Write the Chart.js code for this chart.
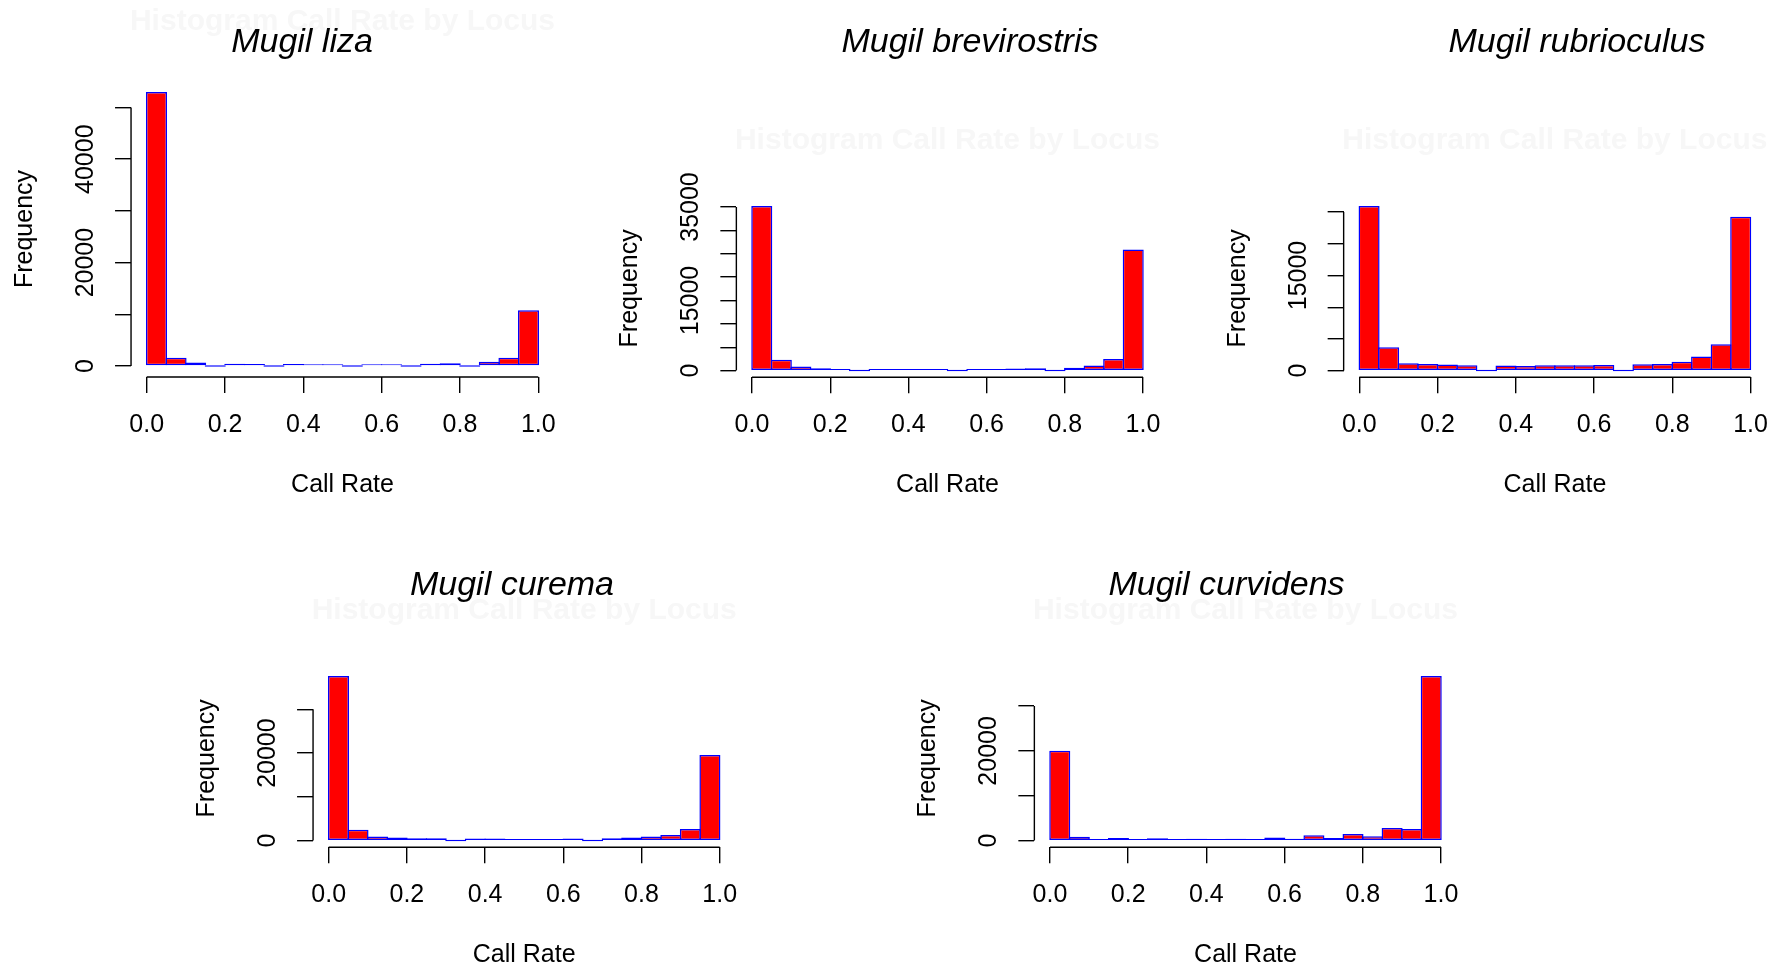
<!DOCTYPE html>
<html>
<head>
<meta charset="utf-8">
<script src="https://cdn.jsdelivr.net/npm/chart.js@4.4.0/dist/chart.umd.min.js"></script>
<style>
  html, body { margin: 0; padding: 0; background: #ffffff; }
  body { width: 1787px; height: 971px; position: relative; overflow: hidden; }
  canvas { position: absolute; }
</style>
</head>
<body>
<canvas id="c1"></canvas>
<canvas id="c2"></canvas>
<canvas id="c3"></canvas>
<canvas id="c4"></canvas>
<canvas id="c5"></canvas>
<script>
// ---------------- DATA ----------------
const breaks = [0.00, 0.05, 0.10, 0.15, 0.20, 0.25, 0.30, 0.35, 0.40, 0.45, 0.50,
                0.55, 0.60, 0.65, 0.70, 0.75, 0.80, 0.85, 0.90, 0.95, 1.00];
const xTickValues = [0.0, 0.2, 0.4, 0.6, 0.8, 1.0];

const speciesNames = ['Mugil liza', 'Mugil brevirostris', 'Mugil rubrioculus', 'Mugil curema', 'Mugil curvidens'];
const mainTitle = 'Histogram Call Rate by Locus';
const xAxisTitle = 'Call Rate';
const yAxisTitle = 'Frequency';

const lizaCounts         = [53000, 1600, 700, 0, 450, 400, 0, 400, 330, 330, 0, 330, 330, 0, 450, 560, 0, 850, 1600, 10800];
const brevirostrisCounts = [35200, 2300, 860, 500, 360, 0, 360, 360, 360, 360, 0, 360, 360, 430, 500, 0, 600, 1100, 2500, 25900];
const rubrioculusCounts  = [25950, 3680, 1160, 1050, 950, 840, 0, 790, 740, 840, 840, 840, 900, 0, 1000, 1050, 1400, 2230, 4150, 24250];
const curemaCounts       = [37600, 2460, 920, 690, 540, 540, 0, 460, 460, 380, 380, 380, 460, 0, 540, 690, 920, 1300, 2670, 19570];
const curvidensCounts    = [20040, 890, 300, 590, 300, 520, 300, 440, 220, 440, 300, 670, 440, 1190, 590, 1480, 960, 2800, 2600, 36680];

const lizaYTicks          = [0, 10000, 20000, 30000, 40000, 50000];
const lizaYLabels         = [0, 20000, 40000];
const brevirostrisYTicks  = [0, 5000, 10000, 15000, 20000, 25000, 30000, 35000];
const brevirostrisYLabels = [0, 15000, 35000];
const rubrioculusYTicks   = [0, 5000, 10000, 15000, 20000, 25000];
const rubrioculusYLabels  = [0, 15000];
const curemaYTicks        = [0, 10000, 20000, 30000];
const curemaYLabels       = [0, 20000];
const curvidensYTicks     = [0, 10000, 20000, 30000];
const curvidensYLabels    = [0, 20000];

// ---------------- LAYOUT / STYLE ----------------
const FAMILY = '"Liberation Sans", Arial, Helvetica, sans-serif';
const LABEL_SIZE = 25;
const TITLE_SIZE = 34;
const MAIN_SIZE = 30;
const Y_BOX_W = 121;      // space left of plot region
const X_BOX_H = 123;      // space below plot region
const TICK_LEN = 16;
const LINE_W = 1.4;
const BAR_BORDER = 1.5;
const Y_LABEL_OFFSET = 45; // label centre distance from y axis line
const X_LABEL_PAD = 17;

const panels = [
  { id: 'c1', name: speciesNames[0], counts: lizaCounts, yTicks: lizaYTicks, yLabels: lizaYLabels,
    box: { x: 0, y: 0, w: 590, h: 520 }, area: { l: 131.04, r: 553.96, t: 81, b: 377 }, titleAt: { x: 302, y: 52 } },
  { id: 'c2', name: speciesNames[1], counts: brevirostrisCounts, yTicks: brevirostrisYTicks, yLabels: brevirostrisYLabels,
    box: { x: 590, y: 0, w: 600, h: 520 }, area: { l: 736.36, r: 1158.64, t: 199.5, b: 377.2 }, titleAt: { x: 970, y: 52 } },
  { id: 'c3', name: speciesNames[2], counts: rubrioculusCounts, yTicks: rubrioculusYTicks, yLabels: rubrioculusYLabels,
    box: { x: 1190, y: 0, w: 597, h: 520 }, area: { l: 1343.65, r: 1766.15, t: 199.5, b: 377.2 }, titleAt: { x: 1577, y: 52 } },
  { id: 'c4', name: speciesNames[3], counts: curemaCounts, yTicks: curemaYTicks, yLabels: curemaYLabels,
    box: { x: 150, y: 520, w: 630, h: 451 }, area: { l: 313.06, r: 735.34, t: 669.5, b: 847.2 }, titleAt: { x: 512, y: 595 } },
  { id: 'c5', name: speciesNames[4], counts: curvidensCounts, yTicks: curvidensYTicks, yLabels: curvidensYLabels,
    box: { x: 870, y: 520, w: 620, h: 451 }, area: { l: 1034.36, r: 1456.64, t: 669.5, b: 847.2 }, titleAt: { x: 1226.5, y: 595 } }
];

const measureCtx = document.createElement('canvas').getContext('2d');
function textWidth(txt, font) { measureCtx.font = font; return measureCtx.measureText(txt).width; }

function makeChart(p) {
  const cv = document.getElementById(p.id);
  cv.width = p.box.w; cv.height = p.box.h;
  cv.style.left = p.box.x + 'px'; cv.style.top = p.box.y + 'px';
  cv.style.width = p.box.w + 'px'; cv.style.height = p.box.h + 'px';

  const A = { l: p.area.l - p.box.x, r: p.area.r - p.box.x, t: p.area.t - p.box.y, b: p.area.b - p.box.y };
  const M = Math.max(...p.counts);
  const points = p.counts.map((c, i) => ({ x: (breaks[i] + breaks[i + 1]) / 2, y: c }));
  const binPx = (breaks[1] - breaks[0]) * (A.r - A.l) / 1.08;
  const labelFont = { family: FAMILY, size: LABEL_SIZE, lineHeight: 1.2 };
  const widest = Math.max(...p.yLabels.map(v => textWidth(String(v), LABEL_SIZE + 'px ' + FAMILY)));
  const yPad = (Y_LABEL_OFFSET - TICK_LEN) - widest / 2;

  const rPlugin = {
    id: 'rStyle_' + p.id,
    beforeDraw(chart) {
      const ctx = chart.ctx, ca = chart.chartArea;
      ctx.save();
      ctx.font = 'bold ' + MAIN_SIZE + 'px ' + FAMILY;
      ctx.fillStyle = '#f7f7f7';
      ctx.textAlign = 'center';
      ctx.textBaseline = 'alphabetic';
      ctx.fillText(mainTitle, (ca.left + ca.right) / 2, ca.top - 51);
      ctx.restore();
    },
    afterDraw(chart) {
      const ctx = chart.ctx, ca = chart.chartArea;
      const xs = chart.scales.x, ys = chart.scales.y;
      ctx.save();
      ctx.strokeStyle = '#000';
      ctx.lineWidth = LINE_W;
      ctx.beginPath();
      ctx.moveTo(xs.getPixelForValue(xTickValues[0]), ca.bottom);
      ctx.lineTo(xs.getPixelForValue(xTickValues[xTickValues.length - 1]), ca.bottom);
      ctx.moveTo(ca.left, ys.getPixelForValue(p.yTicks[0]));
      ctx.lineTo(ca.left, ys.getPixelForValue(p.yTicks[p.yTicks.length - 1]));
      ctx.stroke();
      ctx.font = 'italic ' + TITLE_SIZE + 'px ' + FAMILY;
      ctx.fillStyle = '#000';
      ctx.textAlign = 'center';
      ctx.textBaseline = 'alphabetic';
      ctx.fillText(p.name, p.titleAt.x - p.box.x, p.titleAt.y - p.box.y);
      ctx.restore();
    }
  };

  return new Chart(cv, {
    type: 'bar',
    data: {
      datasets: [{
        data: points,
        backgroundColor: '#ff0000',
        borderColor: '#0000ff',
        borderWidth: BAR_BORDER,
        borderSkipped: false,
        minBarLength: BAR_BORDER,
        inflateAmount: 0,
        categoryPercentage: 1,
        barPercentage: (binPx + BAR_BORDER) / binPx
      }]
    },
    options: {
      responsive: false,
      animation: false,
      events: [],
      layout: {
        autoPadding: false,
        padding: { left: A.l - Y_BOX_W, top: A.t, right: p.box.w - A.r, bottom: p.box.h - (A.b + X_BOX_H) }
      },
      plugins: { legend: { display: false }, tooltip: { enabled: false }, title: { display: false } },
      scales: {
        x: {
          type: 'linear', min: -0.04, max: 1.04, offset: false,
          afterBuildTicks: s => { s.ticks = xTickValues.map(v => ({ value: v })); },
          afterFit: s => { s.height = X_BOX_H; s.paddingLeft = 0; s.paddingRight = 0; s.paddingTop = 0; s.paddingBottom = 0; },
          border: { display: false },
          grid: { display: true, drawOnChartArea: false, offset: false, drawTicks: true,
                  tickLength: TICK_LEN, tickWidth: LINE_W, tickColor: '#000', color: '#000', lineWidth: LINE_W },
          ticks: { autoSkip: false, minRotation: 0, maxRotation: 0, padding: X_LABEL_PAD, color: '#000',
                   font: labelFont, callback: v => Number(v).toFixed(1) },
          title: { display: true, text: xAxisTitle, color: '#000', font: labelFont, padding: { top: 0, bottom: 0 } }
        },
        y: {
          type: 'linear', min: -0.04 * M, max: 1.04 * M,
          afterBuildTicks: s => { s.ticks = p.yTicks.map(v => ({ value: v })); },
          afterFit: s => { s.width = Y_BOX_W; s.paddingLeft = 0; s.paddingRight = 0; s.paddingTop = 0; s.paddingBottom = 0; },
          border: { display: false },
          grid: { display: true, drawOnChartArea: false, drawTicks: true,
                  tickLength: TICK_LEN, tickWidth: LINE_W, tickColor: '#000', color: '#000', lineWidth: LINE_W },
          ticks: { autoSkip: false, minRotation: 90, maxRotation: 90, crossAlign: 'center', padding: yPad,
                   color: '#000', font: labelFont,
                   callback: v => (p.yLabels.includes(v) ? String(v) : '') },
          title: { display: true, text: yAxisTitle, color: '#000', font: labelFont, padding: { top: 0, bottom: 0 } }
        }
      }
    },
    plugins: [rPlugin]
  });
}

panels.forEach(makeChart);
</script>
</body>
</html>
